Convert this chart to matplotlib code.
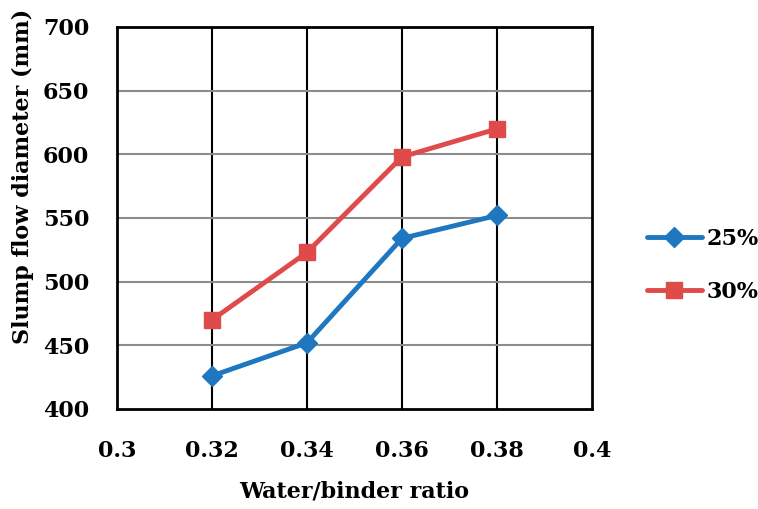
import matplotlib
matplotlib.use("Agg")
import matplotlib.pyplot as plt

# water/binder ratio vs slump flow diameter
wb_ratio = [0.32, 0.34, 0.36, 0.38]
flow_25 = [426, 452, 534, 552]
flow_30 = [470, 523, 598, 620]
series_labels = ["25%", "30%"]
x_ticks = [0.3, 0.32, 0.34, 0.36, 0.38, 0.4]
x_ticklabels = ["0.3", "0.32", "0.34", "0.36", "0.38", "0.4"]
y_ticks = [400, 450, 500, 550, 600, 650, 700]

plt.rcParams['font.family'] = ['DejaVu Serif']
plt.rcParams['font.weight'] = 'bold'
FS = 16

fig = plt.figure(figsize=(7.58, 5.09), dpi=100)
ax = fig.add_axes([0.1544, 0.1965, 0.6266, 0.7505])

# gridlines: vertical black, horizontal gray
for x in x_ticks[1:-1]:
    ax.axvline(x, color='black', lw=1.5, zorder=1)
for y in y_ticks[1:-1]:
    ax.axhline(y, color='#8c8c8c', lw=1.5, zorder=1)

ax.plot(wb_ratio, flow_25, color='#1f77c0', lw=3.5, marker='D', ms=10.5,
        label=series_labels[0], zorder=3, solid_capstyle='round')
ax.plot(wb_ratio, flow_30, color='#df4a4a', lw=3.5, marker='s', ms=12,
        label=series_labels[1], zorder=3, solid_capstyle='round')

ax.set_xlim(0.3, 0.4)
ax.set_ylim(400, 700)
ax.set_xticks(x_ticks)
ax.set_xticklabels(x_ticklabels)
ax.set_yticks(y_ticks)
ax.tick_params(length=0, labelsize=FS)
ax.tick_params(axis='x', pad=22)
ax.tick_params(axis='y', pad=20)
for s in ax.spines.values():
    s.set_linewidth(2)
    s.set_color('black')

ax.set_xlabel("Water/binder ratio", fontsize=FS, fontweight='bold', labelpad=14)
ax.set_ylabel("Slump flow diameter (mm)", fontsize=FS, fontweight='bold')
ax.yaxis.set_label_coords(-0.175, 0.61)

leg = ax.legend(loc='center left', bbox_to_anchor=(1.073, 0.376), frameon=False,
                fontsize=FS, handlelength=2.5, handletextpad=0.2, labelspacing=1.39)

fig.savefig("out.png", dpi=100)
